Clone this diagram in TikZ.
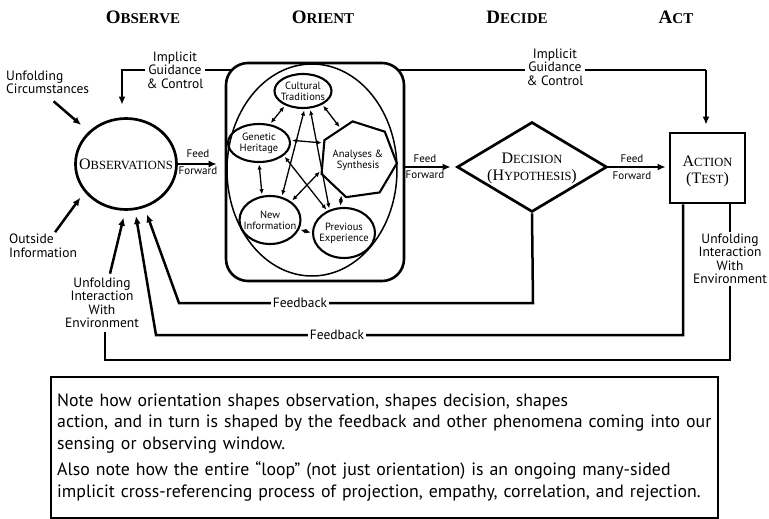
\documentclass[tikz,border=0pt]{standalone}
\usepackage{fontspec}
\setmainfont{Liberation Serif}
\newfontfamily\lab{PT Sans}
\usetikzlibrary{shapes.geometric,arrows.meta}
\newcommand\hd[2]{{\fontsize{19}{19}\selectfont #1}{\fontsize{15}{19}\selectfont #2}}
\newcommand\Lg{\fontsize{16}{17}\selectfont}
\newcommand\Sm{\fontsize{12.5}{17}\selectfont}
\tikzset{
  conn/.style={line width=2.5pt},
  arr/.style={conn,-{Latex[length=8pt,width=7pt]}},
  head/.style={font=\bfseries, inner sep=0pt},
  lbl/.style={font=\lab\fontsize{13.5}{13.5}\selectfont, align=center, inner sep=1pt},
  onl/.style={lbl, fill=white, inner sep=2pt},
  small/.style={font=\lab\fontsize{11}{11}\selectfont, inner sep=0pt},
  inner/.style={ellipse, draw, line width=2.1pt, inner sep=0pt},
  ilbl/.style={font=\lab\fontsize{10.5}{11}\selectfont, align=center, inner sep=0pt},
  iarr/.style={line width=1.3pt,{Latex[length=5pt,width=4.5pt]}-{Latex[length=5pt,width=4.5pt]}, shorten <=1.5pt, shorten >=1.5pt},
  bigtext/.style={font=\Lg, align=center, inner sep=0pt}
}
\begin{document}
\begin{tikzpicture}[x=1pt,y=-1pt]
\useasboundingbox (0,0) rectangle (769,519);

% headings
\node[head] (hobs) at (143,17) {\hd{O}{BSERVE}};
\node[head] (hori) at (323,17) {\hd{O}{RIENT}};
\node[head] (hdec) at (517,17) {\hd{D}{ECIDE}};
\node[head] (hact) at (676,17) {\hd{A}{CT}};

% observations
\node[ellipse, draw, line width=2.7pt, minimum width=101pt, minimum height=91pt, inner sep=0pt] (obs) at (126,164) {};
\node[bigtext] (obstext) at (126,164) {{\Lg O}{\Sm BSERVATIONS}};

% implicit guidance line (behind orient box)
\coordinate (gL) at (122,70);
\coordinate (gR) at (706,70);
\draw[arr] (gR) -- (gL) -- ([xshift=-4pt,yshift=12.5pt]obs.north);

% orient box
\node[draw, rounded corners=22pt, line width=2.6pt, fill=white, minimum width=178pt, minimum height=218pt, inner sep=0pt] (ori) at (315,172) {};
\node[ellipse, draw, line width=1.5pt, minimum width=170pt, minimum height=212pt, inner sep=0pt] (oell) at (312,170) {};

\node[inner, minimum width=57pt, minimum height=34pt, label={[ilbl]center:{Cultural\\Traditions}}] (ct) at (303,91) {};
\node[inner, minimum width=62pt, minimum height=38pt, label={[ilbl]center:{Genetic\\Heritage}}] (gh) at (259,143) {};
\node[regular polygon, regular polygon sides=7, shape border rotate=8, draw, line width=2.1pt, minimum size=78pt, inner sep=0pt, label={[ilbl]center:{Analyses \&\\Synthesis}}] (as) at (358,160) {};
\node[inner, minimum width=61pt, minimum height=48pt, label={[ilbl]center:{New\\Information}}] (ni) at (270,220) {};
\node[inner, minimum width=62pt, minimum height=50pt, label={[ilbl]center:{Previous\\Experience}}] (pe) at (344,233) {};

\draw[iarr] (ct.-141) -- (gh.60);
\draw[iarr] (ct.-35) -- (as.119);
\draw[iarr] (gh.5) -- (as.154);
\draw[iarr] (gh.-90) -- (ni.108);
\draw[iarr] (ni.-18) -- (pe.180);
\draw[iarr] (as.-116) -- (pe.98);
\draw[iarr] (ct.-85) -- (ni.63);
\draw[iarr] (ct.-68) -- (pe.122);
\draw[iarr] (gh.-27) -- (pe.127);
\draw[iarr] (as.-164) -- (ni.41);

% implicit guidance labels
\node[onl] (ig1) at (175,70) {Implicit\\Guidance\\\& Control};
\node[onl] (ig2) at (555,67) {Implicit\\Guidance\\\& Control};

% decision
\node[diamond, draw, line width=2.7pt, minimum width=150pt, minimum height=90pt, inner sep=0pt] (dec) at (532,167) {};
\node[bigtext] (dectext) at (532,168) {{\Lg D}{\Sm ECISION}\\{\Lg (H}{\Sm YPOTHESIS}{\Lg )}};

% action
\node[draw, line width=2.8pt, minimum width=75pt, minimum height=70pt, inner sep=0pt] (act) at (707.5,168) {};
\node[bigtext] (acttext) at (707.5,171) {{\Lg A}{\Sm CTION}\\{\Lg (T}{\Sm EST}{\Lg )}};
\draw[arr] (gR) -- ([xshift=-1.5pt,yshift=7pt]act.north);

% feed forward arrows
\draw[arr, shorten >=8pt] (obs.east) -- (obs.east -| ori.west);
\node[small] (ff1a) at (198,154) {Feed};
\node[small] (ff1b) at (198,171) {Forward};
\draw[arr, shorten >=5pt] (ori.east |- dec.west) -- (dec.west);
\node[small] (ff2a) at (425,159) {Feed};
\node[small] (ff2b) at (425,175) {Forward};
\draw[arr, shorten >=3pt] (dec.east) -- (dec.east -| act.west);
\node[small] (ff3a) at (632,159) {Feed};
\node[small] (ff3b) at (632,176) {Forward};

% feedback loops
\coordinate (f1a) at (533,303);
\coordinate (f1b) at (179,303);
\draw[arr, shorten >=7pt] (dec.south) -- (f1a) -- (f1b) -- (obs.-67);
\node[onl] (fb1) at (300,303) {Feedback};

\coordinate (f2a) at (683,335);
\coordinate (f2b) at (156,335);
\draw[arr, shorten >=6pt] ([xshift=-24.5pt]act.south) -- (f2a) -- (f2b) -- (obs.-79);
\node[onl] (fb2) at (337,335) {Feedback};

% unfolding interaction loop
\node[lbl] (uieL) at (102,303) {Unfolding\\Interaction\\With\\Environment};
\coordinate (u1) at (730,360);
\coordinate (u2) at (105,360);
\draw[conn] ([xshift=22.5pt]act.south) -- (u1) -- (u2) -- ([xshift=3pt,yshift=-3pt]uieL.south);
\node[onl] (uieR) at (730,259) {Unfolding\\Interaction\\With\\Environment};
\draw[arr, shorten >=7pt] ([xshift=8pt,yshift=3pt]uieL.north) -- (obs.-91);

% outside inputs
\node[lbl, align=left, anchor=west] (uc) at (5,82.5) {Unfolding\\Circumstances};
\draw[arr, shorten >=10pt] ([shift={(6pt,-6pt)}]uc.south) -- (obs.139.5);
\node[lbl, align=left, anchor=west] (oi) at (8,246) {Outside\\Information};
\draw[arr, shorten >=7pt] ([xshift=12pt,yshift=1pt]oi.north) -- (obs.-146);

% note
\node[draw, line width=2pt, minimum width=667pt, minimum height=141pt, inner sep=0pt] (note) at (384.5,447.5) {};
\node[anchor=north west, align=left, text width=654pt, inner sep=0pt, font=\lab\fontsize{17.8}{21.5}\selectfont] (notetext) at (57,393.5) {\mbox{Note how orientation shapes observation, shapes decision, shapes}\\
\mbox{action, and in turn is shaped by the feedback and other phenomena coming into our}\\
\mbox{sensing or observing window.}\\[5pt]
\makebox[650pt][s]{Also note how the entire “loop” (not just orientation) is an ongoing many-sided}\\
\mbox{implicit cross-referencing process of projection, empathy, correlation, and rejection.}};
\end{tikzpicture}
\end{document}
